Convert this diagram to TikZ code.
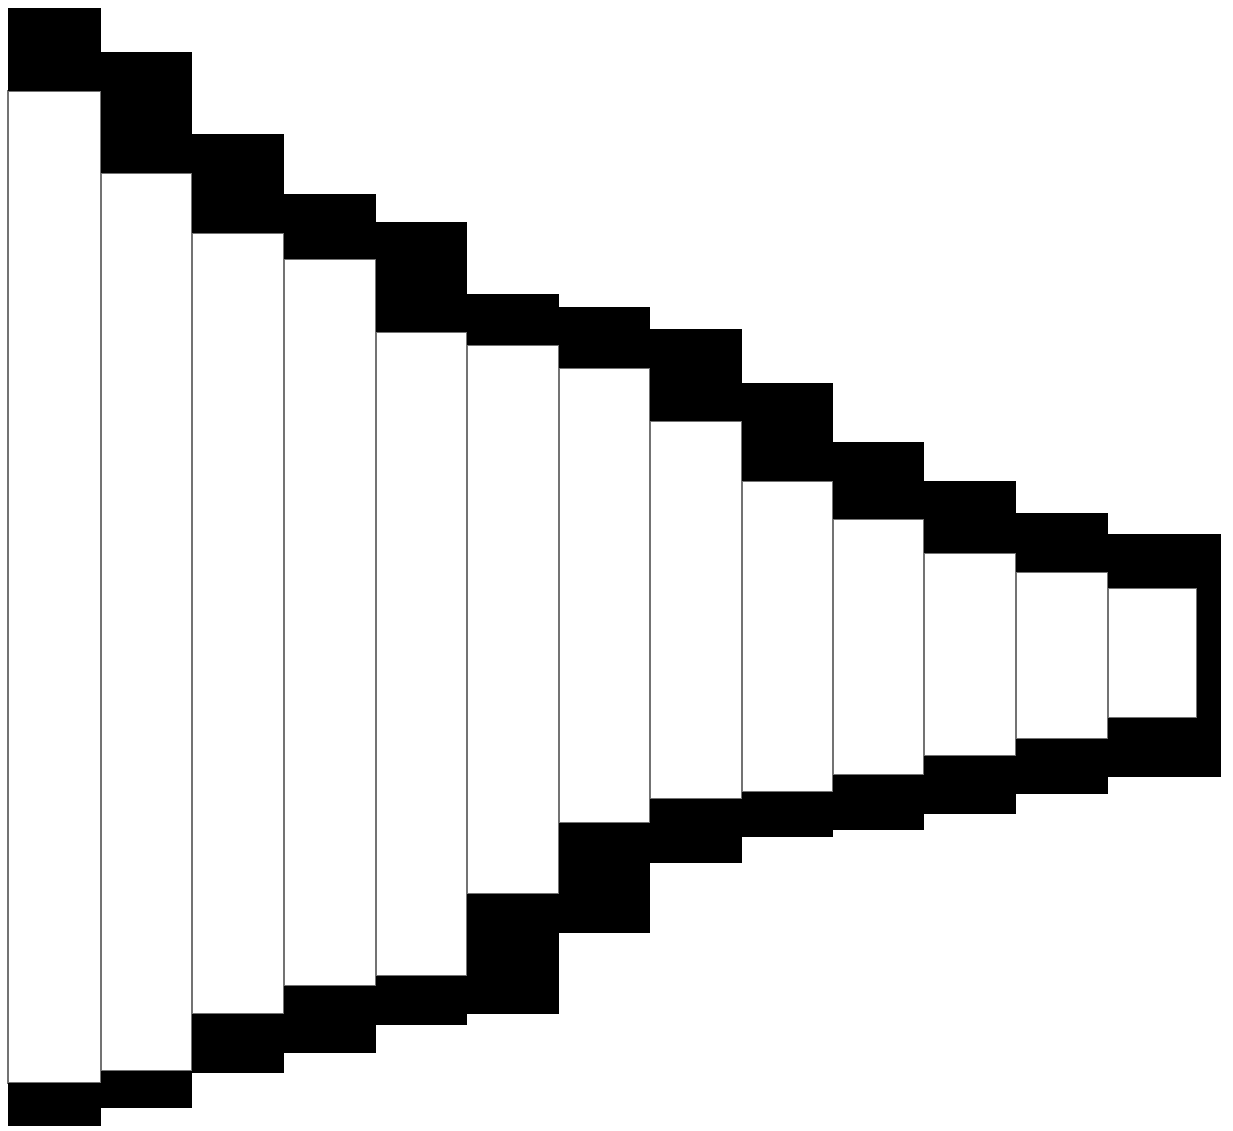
\documentclass[tikz,border=0pt]{standalone}
\begin{document}
\begin{tikzpicture}[x=0.01cm, y=-0.01cm,
	cell/.style={draw=black!55, line width=0.5pt, fill=white},
	band/.style={fill=black}]
	\useasboundingbox (0, 0) rectangle (1233, 1131);
	% left, right, top band, bottom band
	\foreach \l/\r/\ta/\tb/\ba/\bb in {
		8/101/8/91/1083/1126, 101/192/52/173/1071/1108,
		192/284/134/233/1014/1073, 284/376/194/259/986/1053,
		376/467/222/332/976/1025, 467/559/294/345/894/1014,
		559/650/307/368/823/933, 650/742/329/421/799/863,
		742/833/383/481/792/837, 833/924/442/519/775/830,
		924/1016/481/553/756/814, 1016/1108/513/572/739/794} {
		\draw[cell] (\l, \tb) rectangle (\r, \ba);
	}
	\draw[cell] (1108, 588) rectangle (1197, 718);
	\foreach \l/\r/\ta/\tb/\ba/\bb in {
		8/101/8/91/1083/1126, 101/192/52/173/1071/1108,
		192/284/134/233/1014/1073, 284/376/194/259/986/1053,
		376/467/222/332/976/1025, 467/559/294/345/894/1014,
		559/650/307/368/823/933, 650/742/329/421/799/863,
		742/833/383/481/792/837, 833/924/442/519/775/830,
		924/1016/481/553/756/814, 1016/1108/513/572/739/794} {
		\fill[band] (\l, \ta) rectangle (\r, \tb);
		\fill[band] (\l, \ba) rectangle (\r, \bb);
	}
	% last cell, closed on the right
	\fill[band] (1108, 534) rectangle (1221, 588);
	\fill[band] (1108, 718) rectangle (1221, 777);
	\fill[band] (1197, 534) rectangle (1221, 777);
\end{tikzpicture}
\end{document}
